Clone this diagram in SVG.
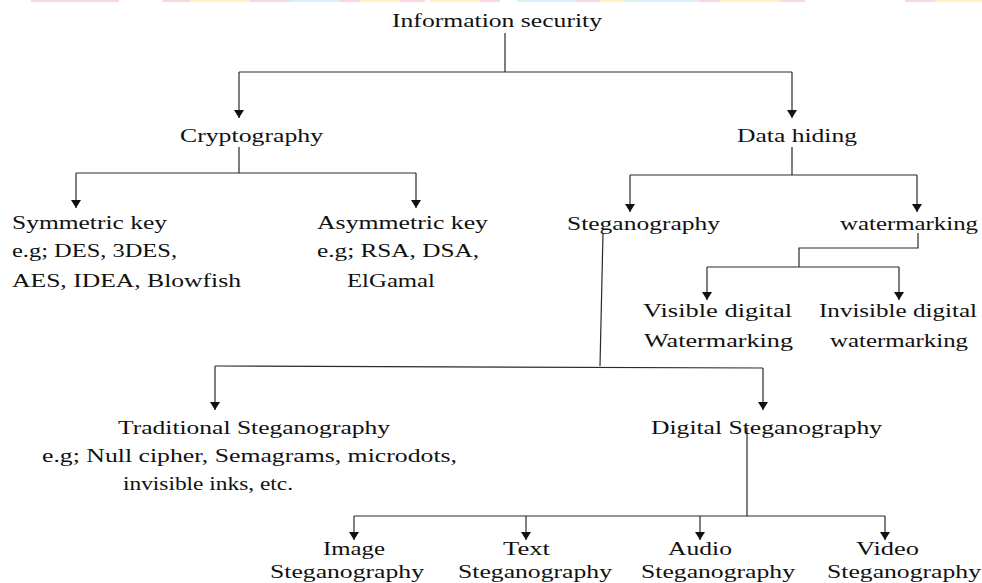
<svg xmlns="http://www.w3.org/2000/svg" width="982" height="583" viewBox="0 0 982 583">
<style>
text{font-family:"Liberation Serif","Times New Roman",serif;font-size:18px;fill:#111}
.c{fill:none;stroke:#2a2a2a;stroke-width:1.2}
.a{fill:none;stroke:#2a2a2a;stroke-width:1.2;marker-end:url(#ah)}
.p{fill:#f6a9b4;opacity:.45}.y{fill:#fbe27a;opacity:.45}.b{fill:#a9def3;opacity:.45}
</style>
<defs>
<marker id="ah" viewBox="0 0 8 10" refX="8" refY="5" markerWidth="8" markerHeight="10" markerUnits="userSpaceOnUse" orient="auto">
<path d="M0,0 L8,5 L0,10 z" fill="#111"/>
</marker>
</defs>
<rect width="982" height="583" fill="#fff"/>
<g id="banner">
<rect class="p" x="31" y="0" width="88" height="2"/>
<rect class="p" x="162" y="0" width="28" height="2"/>
<rect class="y" x="190" y="0" width="60" height="2"/>
<rect class="p" x="250" y="0" width="40" height="2"/>
<rect class="b" x="290" y="0" width="50" height="2"/>
<rect class="p" x="340" y="0" width="20" height="2"/>
<rect class="y" x="360" y="0" width="40" height="2"/>
<rect class="p" x="400" y="0" width="25" height="2"/>
<rect class="y" x="430" y="0" width="50" height="2"/>
<rect class="p" x="480" y="0" width="20" height="2"/>
<rect class="b" x="517" y="0" width="58" height="2"/>
<rect class="p" x="575" y="0" width="25" height="2"/>
<rect class="y" x="600" y="0" width="25" height="2"/>
<rect class="b" x="625" y="0" width="75" height="2"/>
<rect class="p" x="700" y="0" width="20" height="2"/>
<rect class="y" x="720" y="0" width="60" height="2"/>
<rect class="p" x="780" y="0" width="25" height="2"/>
<rect class="p" x="905" y="0" width="30" height="2"/>
<rect class="y" x="935" y="0" width="47" height="2"/>
</g>
<g id="connectors">
<path class="c" d="M505,33 V72 M239,72 H792"/>
<path class="a" d="M239,72 V118"/>
<path class="a" d="M792,72 V118"/>
<path class="c" d="M239,147 V173 M76,173 H416"/>
<path class="a" d="M76,173 V208"/>
<path class="a" d="M416,173 V208"/>
<path class="c" d="M792,147 V175 M630,175 H917"/>
<path class="a" d="M630,175 V212"/>
<path class="a" d="M917,175 V212"/>
<path class="c" d="M918,233 V248 H799 V267 M707,267 H899"/>
<path class="a" d="M707,267 V300"/>
<path class="a" d="M899,267 V300"/>
<path class="c" d="M603,233 L600,366 M215,366 L763,368"/>
<path class="a" d="M215,366 V410"/>
<path class="a" d="M763,368 V410"/>
<path class="c" d="M747,428 V516 M354,516 H885"/>
<path class="a" d="M354,516 V540"/>
<path class="a" d="M526,516 V540"/>
<path class="a" d="M700,516 V540"/>
<path class="a" d="M885,516 V540"/>
</g>
<g id="info-security"><text x="392" y="27" textLength="210" lengthAdjust="spacingAndGlyphs">Information security</text></g>
<g id="cryptography"><text x="180" y="142" textLength="143" lengthAdjust="spacingAndGlyphs">Cryptography</text></g>
<g id="data-hiding"><text x="737" y="142" textLength="120" lengthAdjust="spacingAndGlyphs">Data hiding</text></g>
<g id="symmetric">
<text x="12" y="229" textLength="155" lengthAdjust="spacingAndGlyphs">Symmetric key</text>
<text x="12" y="257" textLength="165" lengthAdjust="spacingAndGlyphs">e.g; DES, 3DES,</text>
<text x="12" y="287" textLength="229" lengthAdjust="spacingAndGlyphs">AES, IDEA, Blowfish</text>
</g>
<g id="asymmetric">
<text x="317" y="229" textLength="171" lengthAdjust="spacingAndGlyphs">Asymmetric key</text>
<text x="317" y="257" textLength="162" lengthAdjust="spacingAndGlyphs">e.g; RSA, DSA,</text>
<text x="347" y="287" textLength="88" lengthAdjust="spacingAndGlyphs">ElGamal</text>
</g>
<g id="steganography"><text x="567" y="230" textLength="153" lengthAdjust="spacingAndGlyphs">Steganography</text></g>
<g id="watermarking"><text x="840" y="230" textLength="138" lengthAdjust="spacingAndGlyphs">watermarking</text></g>
<g id="visible-wm">
<text x="643" y="317" textLength="149" lengthAdjust="spacingAndGlyphs">Visible digital</text>
<text x="644" y="347" textLength="149" lengthAdjust="spacingAndGlyphs">Watermarking</text>
</g>
<g id="invisible-wm">
<text x="819" y="317" textLength="158" lengthAdjust="spacingAndGlyphs">Invisible digital</text>
<text x="830" y="347" textLength="138" lengthAdjust="spacingAndGlyphs">watermarking</text>
</g>
<g id="traditional">
<text x="118" y="434" textLength="272" lengthAdjust="spacingAndGlyphs">Traditional Steganography</text>
<text x="42" y="462" textLength="415" lengthAdjust="spacingAndGlyphs">e.g; Null cipher, Semagrams, microdots,</text>
<text x="123" y="490" textLength="170" lengthAdjust="spacingAndGlyphs">invisible inks, etc.</text>
</g>
<g id="digital"><text x="651" y="434" textLength="231" lengthAdjust="spacingAndGlyphs">Digital Steganography</text></g>
<g id="image-steg">
<text x="323" y="555" textLength="62" lengthAdjust="spacingAndGlyphs">Image</text>
<text x="270" y="578" textLength="154" lengthAdjust="spacingAndGlyphs">Steganography</text>
</g>
<g id="text-steg">
<text x="503" y="555" textLength="47" lengthAdjust="spacingAndGlyphs">Text</text>
<text x="458" y="578" textLength="154" lengthAdjust="spacingAndGlyphs">Steganography</text>
</g>
<g id="audio-steg">
<text x="668" y="555" textLength="64" lengthAdjust="spacingAndGlyphs">Audio</text>
<text x="641" y="578" textLength="154" lengthAdjust="spacingAndGlyphs">Steganography</text>
</g>
<g id="video-steg">
<text x="856" y="555" textLength="63" lengthAdjust="spacingAndGlyphs">Video</text>
<text x="827" y="578" textLength="154" lengthAdjust="spacingAndGlyphs">Steganography</text>
</g>
</svg>
